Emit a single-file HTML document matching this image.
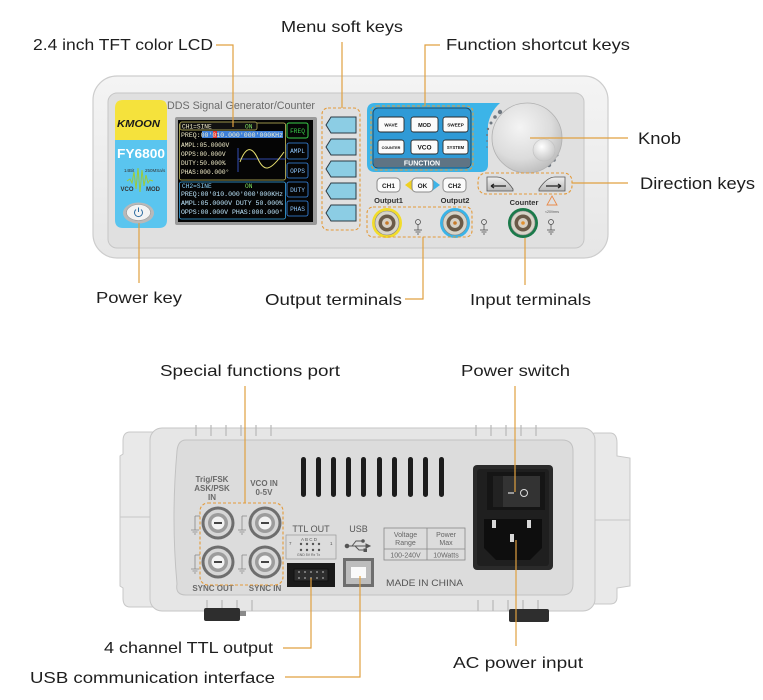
<!DOCTYPE html>
<html><head><meta charset="utf-8"><style>
html,body{margin:0;padding:0;background:#fff;}
svg{display:block;}
.lb{font-family:"Liberation Sans",sans-serif;font-size:16px;fill:#1e1e1e;}
.ln{stroke:#e0a040;stroke-width:1.2;fill:none;}
.ds{stroke:#e39a3a;stroke-width:1.1;stroke-dasharray:3 2;fill:none;}
.scr{font-family:"Liberation Mono",monospace;font-size:6.2px;fill:#f3eecb;}
.fb{font-family:"Liberation Sans",sans-serif;font-size:4.6px;font-weight:bold;fill:#111;text-anchor:middle;}
.rl{font-family:"Liberation Sans",sans-serif;font-size:8px;font-weight:bold;fill:#6a6a6a;text-anchor:middle;}
</style></head><body>
<svg width="763" height="700" viewBox="0 0 763 700" xmlns="http://www.w3.org/2000/svg">
<defs>
<radialGradient id="knob" cx="0.4" cy="0.35" r="0.75"><stop offset="0" stop-color="#f4f4f4"/><stop offset="0.6" stop-color="#dcdcdc"/><stop offset="1" stop-color="#b4b4b4"/></radialGradient>
<radialGradient id="bump" cx="0.4" cy="0.35" r="0.7"><stop offset="0" stop-color="#ffffff"/><stop offset="1" stop-color="#c4c4c4"/></radialGradient>
<linearGradient id="body" x1="0" y1="0" x2="0" y2="1"><stop offset="0" stop-color="#f4f4f4"/><stop offset="1" stop-color="#e6e6e6"/></linearGradient>
<linearGradient id="dk" x1="0" y1="0" x2="0" y2="1"><stop offset="0" stop-color="#f0f0f0"/><stop offset="1" stop-color="#b8b8b8"/></linearGradient>
</defs>

<!-- ================= FRONT PANEL ================= -->
<rect x="93" y="76" width="515" height="182" rx="24" fill="url(#body)" stroke="#cdcdcd" stroke-width="1.2"/>
<rect x="108" y="93" width="476" height="155" rx="9" fill="#e0e0e0" stroke="#c6c6c6"/>

<!-- left strip -->
<path d="M115 108 Q115 100 123 100 L160 100 Q167 100 167 108 L167 140 L115 140 Z" fill="#f5e23c"/>
<path d="M115 140 L167 140 L167 220 Q167 228 159 228 L123 228 Q115 228 115 220 Z" fill="#5ac5ef"/>
<text x="138.5" y="127" text-anchor="middle" font-family="Liberation Sans,sans-serif" font-size="10" font-weight="bold" font-style="italic" fill="#1a1a1a" textLength="43" lengthAdjust="spacingAndGlyphs">KMOON</text>
<text x="141" y="158" text-anchor="middle" font-family="Liberation Sans,sans-serif" font-size="13" font-weight="bold" fill="#ffffff" textLength="48" lengthAdjust="spacingAndGlyphs">FY6800</text>
<text x="124" y="172" font-family="Liberation Sans,sans-serif" font-size="4.5" fill="#333">14Bit</text>
<text x="145" y="172" font-family="Liberation Sans,sans-serif" font-size="4.5" fill="#333">250MSa/s</text>
<path d="M127 181 L130 179 L132 183 L134 172 L136 189 L138 168 L140 192 L142 170 L144 186 L146 175 L148 183 L150 180 L153 181" stroke="#9ccb3a" stroke-width="1" fill="none"/>
<text x="127" y="191" text-anchor="middle" font-family="Liberation Sans,sans-serif" font-size="6" font-weight="bold" fill="#333">VCO</text>
<text x="153" y="191" text-anchor="middle" font-family="Liberation Sans,sans-serif" font-size="6" font-weight="bold" fill="#333">MOD</text>
<ellipse cx="138.5" cy="213" rx="15.5" ry="10.5" fill="#b9b9b9"/>
<ellipse cx="138.5" cy="212.5" rx="12" ry="8" fill="#f3f3f3" stroke="#999" stroke-width="0.6"/>
<path d="M136 209.5 A4 4 0 1 0 141 209.5" stroke="#2a6aa0" stroke-width="1" fill="none"/>
<line x1="138.5" y1="207.5" x2="138.5" y2="212" stroke="#2a6aa0" stroke-width="1"/>

<text x="167" y="109" font-family="Liberation Sans,sans-serif" font-size="11" fill="#6a6a6a" textLength="148" lengthAdjust="spacingAndGlyphs">DDS Signal Generator/Counter</text>

<!-- screen -->
<rect x="175" y="117" width="142" height="108" rx="2" fill="#9a9a9a"/>
<rect x="178" y="120" width="135" height="102" fill="#050505"/>
<rect x="179.5" y="123" width="106" height="57" rx="2" fill="none" stroke="#c9c060" stroke-width="0.8"/>
<rect x="180" y="122" width="77" height="8" rx="2" fill="#111" stroke="#c9c060" stroke-width="0.7"/>
<text x="182" y="128.5" class="scr">CH1=SINE</text>
<text x="245" y="128.5" class="scr" style="fill:#7fe060">ON</text>
<rect x="202" y="131" width="81" height="7" fill="#3d7fd8"/>
<rect x="213" y="131" width="4" height="7" fill="#e03030"/>
<text x="181" y="137" class="scr" textLength="102" lengthAdjust="spacingAndGlyphs">PREQ:00'010.000'000'000KHz</text>
<text x="181" y="147" class="scr">AMPL:05.0000V</text>
<text x="181" y="156" class="scr">OPPS:00.000V</text>
<text x="181" y="165" class="scr">DUTY:50.000%</text>
<text x="181" y="174" class="scr">PHAS:000.000°</text>
<line x1="238" y1="148" x2="238" y2="172" stroke="#4060e0" stroke-width="0.8"/>
<line x1="238" y1="159" x2="286" y2="159" stroke="#4060e0" stroke-width="0.8"/>
<path d="M240 162 C246 146 252 146 258 159 C264 172 270 172 284 152" stroke="#e8e070" stroke-width="1" fill="none"/>
<rect x="179.5" y="182" width="106" height="37" rx="2" fill="none" stroke="#3aa8e8" stroke-width="0.8"/>
<text x="182" y="188" class="scr" style="fill:#8fd6ff">CH2=SINE</text>
<text x="245" y="188" class="scr" style="fill:#7fe060">ON</text>
<text x="181" y="196" class="scr" style="fill:#bfe8ff" textLength="102" lengthAdjust="spacingAndGlyphs">PREQ:00'010.000'000'000KHz</text>
<text x="181" y="205" class="scr" style="fill:#bfe8ff" textLength="102" lengthAdjust="spacingAndGlyphs">AMPL:05.0000V DUTY 50.000%</text>
<text x="181" y="214" class="scr" style="fill:#bfe8ff" textLength="102" lengthAdjust="spacingAndGlyphs">OPPS:00.000V  PHAS:000.000°</text>
<rect x="287" y="123" width="21" height="15" rx="2" fill="#050505" stroke="#3ad04a" stroke-width="1"/>
<text x="297.5" y="133" text-anchor="middle" class="scr" style="fill:#3ad04a">FREQ</text>
<rect x="287" y="143" width="21" height="16" rx="2" fill="#050505" stroke="#3a8ae8" stroke-width="0.8"/>
<text x="297.5" y="153" text-anchor="middle" class="scr" style="fill:#8fc8ff">AMPL</text>
<rect x="287" y="163" width="21" height="15" rx="2" fill="#050505" stroke="#3a8ae8" stroke-width="0.8"/>
<text x="297.5" y="173" text-anchor="middle" class="scr" style="fill:#8fc8ff">OPPS</text>
<rect x="287" y="182" width="21" height="15" rx="2" fill="#050505" stroke="#3a8ae8" stroke-width="0.8"/>
<text x="297.5" y="192" text-anchor="middle" class="scr" style="fill:#8fc8ff">DUTY</text>
<rect x="287" y="201" width="21" height="15" rx="2" fill="#050505" stroke="#3a8ae8" stroke-width="0.8"/>
<text x="297.5" y="211" text-anchor="middle" class="scr" style="fill:#8fc8ff">PHAS</text>

<!-- menu soft keys -->
<g fill="#8ccde4" stroke="#2c3a44" stroke-width="1">
<path d="M326 125 L331 117 L356 117 L356 133 L331 133 Z"/>
<path d="M326 147 L331 139 L356 139 L356 155 L331 155 Z"/>
<path d="M326 169 L331 161 L356 161 L356 177 L331 177 Z"/>
<path d="M326 191 L331 183 L356 183 L356 199 L331 199 Z"/>
<path d="M326 213 L331 205 L356 205 L356 221 L331 221 Z"/>
</g>
<rect x="322" y="108" width="38" height="122" rx="6" class="ds"/>

<!-- function area -->
<path d="M375 103 L500 103 Q490 112 488 125 L488 165 Q488 172 480 172 L375 172 Q367 172 367 164 L367 111 Q367 103 375 103 Z" fill="#3cb4e8"/>
<rect x="373" y="108" width="98" height="60" rx="5" fill="#2f9ad6" stroke="#1f4a66" stroke-width="1"/>
<rect x="374" y="158" width="96" height="9" rx="2" fill="#5f7484"/>
<text x="422" y="165.5" text-anchor="middle" font-family="Liberation Sans,sans-serif" font-size="7" font-weight="bold" fill="#fff">FUNCTION</text>
<rect x="371" y="106" width="102" height="64" rx="6" class="ds"/>
<g fill="#fbfbfb" stroke="#2a2a2a" stroke-width="0.9">
<rect x="378" y="117" width="26" height="15" rx="2.5"/>
<rect x="411" y="117" width="27" height="15" rx="2.5"/>
<rect x="443" y="117" width="25" height="15" rx="2.5"/>
<rect x="378" y="140" width="26" height="14" rx="2.5"/>
<rect x="411" y="140" width="27" height="14" rx="2.5"/>
<rect x="443" y="140" width="25" height="14" rx="2.5"/>
</g>
<text x="391" y="126.5" class="fb">WAVE</text>
<text x="424.5" y="126.8" class="fb" style="font-size:5.5px">MOD</text>
<text x="455.5" y="126.5" class="fb">SWEEP</text>
<text x="391" y="149" class="fb" style="font-size:3.8px">COUNTER</text>
<text x="424.5" y="149.5" class="fb" style="font-size:6.5px">VCO</text>
<text x="455.5" y="149" class="fb" style="font-size:4.2px">SYSTEM</text>

<!-- knob -->
<g fill="#6f7780">
<circle cx="500" cy="112" r="2.2"/><circle cx="495" cy="117" r="1.8"/><circle cx="491" cy="123" r="1.5"/><circle cx="488" cy="129" r="1.2"/><circle cx="487" cy="135" r="1"/><circle cx="487" cy="141" r="0.9"/><circle cx="487" cy="147" r="0.8"/>
<circle cx="559" cy="131" r="0.8"/><circle cx="560" cy="137" r="0.9"/><circle cx="560" cy="143" r="1"/><circle cx="559" cy="149" r="1.2"/><circle cx="557" cy="155" r="1.5"/><circle cx="554" cy="160" r="1.8"/><circle cx="549" cy="165" r="2.2"/>
</g>
<circle cx="527" cy="138" r="35" fill="url(#knob)" stroke="#b0b0b0" stroke-width="0.8"/>
<circle cx="544" cy="150" r="11" fill="url(#bump)" stroke="#c0c0c0" stroke-width="0.6"/>

<!-- CH1 OK CH2 -->
<rect x="377" y="178" width="23" height="14" rx="4" fill="#fafafa" stroke="#8a8a8a"/>
<text x="388.5" y="188" text-anchor="middle" font-family="Liberation Sans,sans-serif" font-size="6.5" font-weight="bold" fill="#222">CH1</text>
<path d="M405 185 L413 179 L413 191 Z" fill="#f0d020"/>
<path d="M440 185 L432 179 L432 191 Z" fill="#3cb4e8"/>
<rect x="412" y="178" width="21" height="14" rx="4" fill="#fafafa" stroke="#8a8a8a"/>
<text x="422.5" y="188" text-anchor="middle" font-family="Liberation Sans,sans-serif" font-size="6.5" font-weight="bold" fill="#222">OK</text>
<rect x="443" y="178" width="23" height="14" rx="4" fill="#fafafa" stroke="#8a8a8a"/>
<text x="454.5" y="188" text-anchor="middle" font-family="Liberation Sans,sans-serif" font-size="6.5" font-weight="bold" fill="#222">CH2</text>

<!-- direction keys -->
<path d="M487 177 L497 177 Q505 177 513 189 L513 191 L487 191 Z" fill="url(#dk)" stroke="#555" stroke-width="0.8"/>
<path d="M565 177 L555 177 Q547 177 539 189 L539 191 L565 191 Z" fill="url(#dk)" stroke="#555" stroke-width="0.8"/>
<path d="M491 186 L506 186 M491 186 L494 184 M491 186 L494 188" stroke="#222" stroke-width="1.3" fill="none"/>
<path d="M546 186 L561 186 M561 186 L558 184 M561 186 L558 188" stroke="#222" stroke-width="1.3" fill="none"/>
<rect x="478" y="173" width="94" height="21" rx="8" class="ds"/>

<!-- output labels -->
<text x="388.5" y="203" text-anchor="middle" font-family="Liberation Sans,sans-serif" font-size="7.5" font-weight="bold" fill="#333">Output1</text>
<text x="455" y="203" text-anchor="middle" font-family="Liberation Sans,sans-serif" font-size="7.5" font-weight="bold" fill="#333">Output2</text>
<text x="524" y="205" text-anchor="middle" font-family="Liberation Sans,sans-serif" font-size="7.5" font-weight="bold" fill="#333">Counter</text>
<path d="M552 196 L557 205 L547 205 Z" fill="none" stroke="#e88a4a" stroke-width="0.9"/>
<text x="545" y="213" font-family="Liberation Sans,sans-serif" font-size="3.5" fill="#555">&lt;20Vrms</text>

<!-- BNCs front -->
<g>
<circle cx="387" cy="223" r="15" fill="#f2dc2a"/><circle cx="387" cy="223" r="12" fill="#d8d4c8" stroke="#888" stroke-width="0.6"/>
<circle cx="387" cy="223" r="8.5" fill="#6a5a48"/><circle cx="387" cy="223" r="5" fill="#d8d0c4"/><circle cx="387" cy="223" r="1.8" fill="#c87a2a"/>
<circle cx="455" cy="223" r="15" fill="#3ab4e8"/><circle cx="455" cy="223" r="12" fill="#d8d4c8" stroke="#888" stroke-width="0.6"/>
<circle cx="455" cy="223" r="8.5" fill="#6a5a48"/><circle cx="455" cy="223" r="5" fill="#d8d0c4"/><circle cx="455" cy="223" r="1.8" fill="#c87a2a"/>
<circle cx="523" cy="223" r="15" fill="#1a7a4a"/><circle cx="523" cy="223" r="12" fill="#d8d4c8" stroke="#888" stroke-width="0.6"/>
<circle cx="523" cy="223" r="8.5" fill="#6a5a48"/><circle cx="523" cy="223" r="5" fill="#d8d0c4"/><circle cx="523" cy="223" r="1.8" fill="#e09030"/>
</g>
<g stroke="#444" stroke-width="0.7" fill="none">
<circle cx="418" cy="222" r="2.5"/><path d="M418 224.5 V230 M414 230 H422 M415.5 232 H420.5 M417 234 H419"/>
<circle cx="484" cy="222" r="2.5"/><path d="M484 224.5 V230 M480 230 H488 M481.5 232 H486.5 M483 234 H485"/>
<circle cx="551" cy="222" r="2.5"/><path d="M551 224.5 V230 M547 230 H555 M548.5 232 H553.5 M550 234 H552"/>
</g>
<rect x="367" y="207" width="105" height="30" rx="6" class="ds"/>

<!-- ================= REAR PANEL ================= -->
<path d="M130 432 L152 432 Q160 432 160 442 L160 600 Q160 607 152 607 L130 607 Q123 607 123 598 L123 588 L120 586 L120 456 L123 454 L123 441 Q123 432 130 432 Z" fill="#e9e9e9" stroke="#c8c8c8" stroke-width="1"/>
<line x1="120" y1="517" x2="160" y2="517" stroke="#c8c8c8"/>
<path d="M596 433 L610 433 Q617 433 617 443 L617 456 L630 458 L630 586 L617 588 L617 597 Q617 604 610 604 L596 604 Q588 604 588 596 L588 441 Q588 433 596 433 Z" fill="#e9e9e9" stroke="#c8c8c8" stroke-width="1"/>
<line x1="588" y1="520" x2="630" y2="520" stroke="#c8c8c8"/>
<rect x="150" y="428" width="445" height="183" rx="12" fill="#e6e6e6" stroke="#c6c6c6" stroke-width="1"/>
<path d="M186 440 L562 440 Q573 440 573 451 L573 584 Q573 595 562 595 L186 595 Q175 595 177 584 Q171 518 177 451 Q178 440 186 440 Z" fill="#dcdcdc" stroke="#c2c2c2" stroke-width="1"/>
<g stroke="#b8b8b8" stroke-width="1.2">
<line x1="196" y1="425" x2="196" y2="436"/><line x1="211" y1="425" x2="211" y2="436"/><line x1="226" y1="425" x2="226" y2="436"/><line x1="241" y1="425" x2="241" y2="436"/><line x1="256" y1="425" x2="256" y2="436"/><line x1="271" y1="425" x2="271" y2="436"/>
<line x1="476" y1="425" x2="476" y2="436"/><line x1="491" y1="425" x2="491" y2="436"/><line x1="506" y1="425" x2="506" y2="436"/><line x1="521" y1="425" x2="521" y2="436"/><line x1="536" y1="425" x2="536" y2="436"/>
<line x1="207" y1="600" x2="207" y2="611"/><line x1="222" y1="600" x2="222" y2="611"/><line x1="237" y1="600" x2="237" y2="611"/><line x1="252" y1="600" x2="252" y2="611"/>
<line x1="478" y1="600" x2="478" y2="611"/><line x1="493" y1="600" x2="493" y2="611"/><line x1="508" y1="600" x2="508" y2="611"/><line x1="523" y1="600" x2="523" y2="611"/><line x1="538" y1="600" x2="538" y2="611"/>
</g>
<rect x="204" y="608" width="36" height="13" rx="2" fill="#2e2e2e"/>
<rect x="240" y="611" width="6" height="5" fill="#8a8a8a"/>
<rect x="509" y="609" width="40" height="13" rx="2" fill="#2e2e2e"/>

<g fill="#1c1c1c">
<rect x="301" y="457" width="5" height="40" rx="2.5"/><rect x="316" y="457" width="5" height="40" rx="2.5"/><rect x="331" y="457" width="5" height="40" rx="2.5"/><rect x="346" y="457" width="5" height="40" rx="2.5"/><rect x="361" y="457" width="5" height="40" rx="2.5"/><rect x="377" y="457" width="5" height="40" rx="2.5"/><rect x="392" y="457" width="5" height="40" rx="2.5"/><rect x="408" y="457" width="5" height="40" rx="2.5"/><rect x="423" y="457" width="5" height="40" rx="2.5"/><rect x="439" y="457" width="5" height="40" rx="2.5"/>
</g>

<text x="212" y="482" class="rl">Trig/FSK</text>
<text x="212" y="491" class="rl">ASK/PSK</text>
<text x="212" y="500" class="rl">IN</text>
<text x="264" y="486" class="rl">VCO IN</text>
<text x="264" y="495" class="rl">0-5V</text>
<text x="213" y="591" class="rl">SYNC OUT</text>
<text x="265" y="591" class="rl">SYNC IN</text>

<g>
<g id="rb">
<circle cx="218" cy="523" r="16.5" fill="#6e6e6e"/><circle cx="218" cy="523" r="13.5" fill="#d6d6d6"/><circle cx="218" cy="523" r="10" fill="#9c9c9c"/><circle cx="218" cy="523" r="6.5" fill="#f2f2f2"/><rect x="214" y="522" width="8" height="2" fill="#444"/>
</g>
<use href="#rb" x="47" y="0"/><use href="#rb" x="0" y="39"/><use href="#rb" x="47" y="39"/>
</g>
<g stroke="#888" stroke-width="0.8" fill="none">
<path d="M195 516 V530 M191 530 H199 M192.5 532 H197.5 M194 534 H196 M195 516 H200"/>
<path d="M242 516 V530 M238 530 H246 M239.5 532 H244.5 M241 534 H243 M242 516 H247"/>
<path d="M195 555 V569 M191 569 H199 M192.5 571 H197.5 M194 573 H196 M195 555 H200"/>
<path d="M242 555 V569 M238 569 H246 M239.5 571 H244.5 M241 573 H243 M242 555 H247"/>
</g>
<rect x="200" y="503" width="83" height="82" rx="8" class="ds"/>

<text x="311" y="532" text-anchor="middle" font-family="Liberation Sans,sans-serif" font-size="9" fill="#555">TTL OUT</text>
<rect x="286" y="535" width="50" height="24" fill="none" stroke="#999" stroke-width="0.7"/>
<text x="301" y="541" font-family="Liberation Sans,sans-serif" font-size="4.5" fill="#555">A B C D</text>
<text x="289" y="545" font-family="Liberation Sans,sans-serif" font-size="4.5" fill="#555">7</text>
<text x="330" y="545" font-family="Liberation Sans,sans-serif" font-size="4.5" fill="#555">1</text>
<g fill="#555"><circle cx="301" cy="544" r="1.2"/><circle cx="307" cy="544" r="1.2"/><circle cx="313" cy="544" r="1.2"/><circle cx="319" cy="544" r="1.2"/><circle cx="301" cy="550" r="1.2"/><circle cx="307" cy="550" r="1.2"/><circle cx="313" cy="550" r="1.2"/><circle cx="319" cy="550" r="1.2"/></g>
<text x="297" y="556" font-family="Liberation Sans,sans-serif" font-size="3.5" fill="#555">GND 5V Rx Tx</text>
<rect x="287" y="563" width="48" height="24" fill="#1a1a1a"/>
<rect x="294" y="569" width="34" height="12" fill="#2e2e2e" stroke="#111"/>
<g fill="#aaa"><circle cx="299" cy="572" r="0.9"/><circle cx="305" cy="572" r="0.9"/><circle cx="311" cy="572" r="0.9"/><circle cx="317" cy="572" r="0.9"/><circle cx="323" cy="572" r="0.9"/><circle cx="299" cy="578" r="0.9"/><circle cx="305" cy="578" r="0.9"/><circle cx="311" cy="578" r="0.9"/><circle cx="317" cy="578" r="0.9"/><circle cx="323" cy="578" r="0.9"/></g>

<text x="358.5" y="532" text-anchor="middle" font-family="Liberation Sans,sans-serif" font-size="9" fill="#555">USB</text>
<g stroke="#555" stroke-width="1" fill="#555">
<circle cx="347" cy="546" r="1.8"/><line x1="347" y1="546" x2="370" y2="546"/><path d="M370 546 L366 544 L366 548 Z"/>
<path d="M352 546 L356 541 L362 541" fill="none"/><circle cx="363" cy="541" r="1.3"/>
<path d="M355 546 L359 550 L364 550" fill="none"/><rect x="364" y="549" width="2.5" height="2.5"/>
</g>
<rect x="343" y="558" width="31" height="29" fill="#6e6e6e"/>
<rect x="346" y="561" width="25" height="23" fill="#bdbdbd"/>
<rect x="351" y="567" width="15" height="11" fill="#fafafa"/>

<rect x="384" y="528" width="81" height="32" fill="none" stroke="#888" stroke-width="0.8"/>
<line x1="427" y1="528" x2="427" y2="560" stroke="#888" stroke-width="0.8"/>
<line x1="384" y1="549" x2="465" y2="549" stroke="#888" stroke-width="0.8"/>
<g font-family="Liberation Sans,sans-serif" font-size="7" fill="#666" text-anchor="middle">
<text x="405.5" y="537">Voltage</text><text x="405.5" y="545">Range</text>
<text x="446" y="537">Power</text><text x="446" y="545">Max</text>
<text x="405.5" y="557.5">100-240V</text><text x="446" y="557.5">10Watts</text>
</g>
<text x="424.5" y="586" text-anchor="middle" font-family="Liberation Sans,sans-serif" font-size="9" fill="#555" textLength="77" lengthAdjust="spacingAndGlyphs">MADE IN CHINA</text>

<rect x="473" y="465" width="80" height="105" rx="4" fill="#2a2a2a"/>
<rect x="477" y="469" width="72" height="97" rx="3" fill="#1f1f1f"/>
<rect x="487" y="472" width="58" height="38" fill="#151515"/>
<rect x="493" y="476" width="47" height="31" fill="#333"/>
<rect x="493" y="476" width="10" height="31" fill="#222"/>
<line x1="508" y1="493" x2="514" y2="493" stroke="#ddd" stroke-width="1.2"/>
<circle cx="524" cy="493" r="3.5" fill="none" stroke="#ddd" stroke-width="1"/>
<path d="M484 519 L542 519 L542 548 L530 560 L496 560 L484 548 Z" fill="#0e0e0e"/>
<rect x="492" y="520" width="4" height="8" fill="#d8d8d8"/>
<rect x="527" y="520" width="4" height="8" fill="#d8d8d8"/>
<rect x="510" y="534" width="4" height="8" fill="#d8d8d8"/>

<!-- ================= LABELS ================= -->
<text x="33" y="50" class="lb" textLength="180" lengthAdjust="spacingAndGlyphs">2.4 inch TFT color LCD</text>
<text x="281" y="32" class="lb" textLength="122" lengthAdjust="spacingAndGlyphs">Menu soft keys</text>
<text x="446" y="50" class="lb" textLength="184" lengthAdjust="spacingAndGlyphs">Function shortcut keys</text>
<text x="638" y="144" class="lb" style="font-size:17px" textLength="43" lengthAdjust="spacingAndGlyphs">Knob</text>
<text x="640" y="189" class="lb" style="font-size:17px" textLength="115" lengthAdjust="spacingAndGlyphs">Direction keys</text>
<text x="96" y="303" class="lb" textLength="86" lengthAdjust="spacingAndGlyphs">Power key</text>
<text x="265" y="305" class="lb" textLength="137" lengthAdjust="spacingAndGlyphs">Output terminals</text>
<text x="470" y="305" class="lb" textLength="121" lengthAdjust="spacingAndGlyphs">Input terminals</text>
<text x="160" y="376" class="lb" textLength="180" lengthAdjust="spacingAndGlyphs">Special functions port</text>
<text x="461" y="376" class="lb" textLength="109" lengthAdjust="spacingAndGlyphs">Power switch</text>
<text x="104" y="653" class="lb" textLength="169" lengthAdjust="spacingAndGlyphs">4 channel TTL output</text>
<text x="30" y="683" class="lb" textLength="245" lengthAdjust="spacingAndGlyphs">USB communication interface</text>
<text x="453" y="668" class="lb" textLength="130" lengthAdjust="spacingAndGlyphs">AC power input</text>

<path class="ln" d="M216 45 H233 V127"/>
<path class="ln" d="M342 42 V108"/>
<path class="ln" d="M440 45 H425 V106"/>
<path class="ln" d="M530 138 H628"/>
<path class="ln" d="M572 183 H628"/>
<path class="ln" d="M139 223 V283"/>
<path class="ln" d="M405 299 H423 V237"/>
<path class="ln" d="M525 238 V285"/>
<path class="ln" d="M245 386 V503"/>
<path class="ln" d="M515 386 V492"/>
<path class="ln" d="M283 648 H311 V578"/>
<path class="ln" d="M285 677 H360 V576"/>
<path class="ln" d="M516 540 V646"/>
</svg>
</body></html>
